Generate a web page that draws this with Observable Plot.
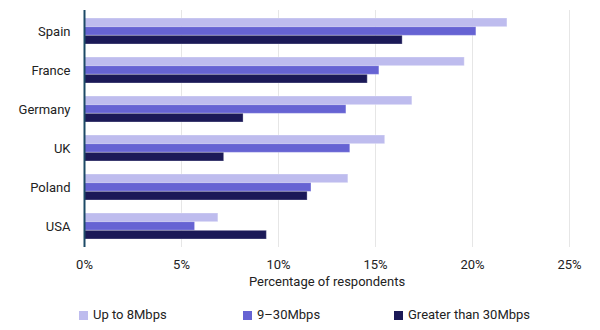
<!DOCTYPE html>
<html>
<head>
<meta charset="utf-8">
<script src="https://cdn.jsdelivr.net/npm/d3@7"></script>
<script src="https://cdn.jsdelivr.net/npm/@observablehq/plot@0.6"></script>
<style>
  html, body { margin: 0; padding: 0; background: #fff; }
  body { width: 600px; height: 330px; overflow: hidden; font-family: Roboto, "DejaVu Sans", sans-serif; }
  #legend { display: flex; align-items: center; padding-left: 79px; margin-top: 8px; font-size: 13px; color: #222; line-height: 14px; }
  #legend .item { display: flex; align-items: center; }
  #legend .sw { width: 9px; height: 9px; margin-right: 5px; display: inline-block; }
</style>
</head>
<body>
<div id="chart"></div>
<div id="legend"></div>
<script>
const countries = ["Spain", "France", "Germany", "UK", "Poland", "USA"];
const seriesNames = ["Up to 8Mbps", "9\u201330Mbps", "Greater than 30Mbps"];
const upTo8 =    [21.8, 19.6, 16.9, 15.5, 13.6, 6.9];
const mid9to30 = [20.2, 15.2, 13.5, 13.7, 11.7, 5.7];
const over30 =   [16.4, 14.6, 8.2, 7.2, 11.5, 9.4];
const xTicks = [0, 5, 10, 15, 20, 25];
const colors = ["#bebcee", "#6663d3", "#1b1957"];

const seriesValues = [upTo8, mid9to30, over30];

const W = 600, H = 300, mT = 10, mB = 53, mL = 84, mR = 31;
const padIn = 0.34, padOut = 0.18;
const step = (H - mT - mB) / (countries.length - padIn + 2 * padOut);
const band = step * (1 - padIn);
const sub = band / seriesNames.length;

const font = "Roboto, 'DejaVu Sans', sans-serif";

const barMarks = seriesNames.map((s, j) => {
  const rows = countries.map((c, i) => ({country: c, series: s, value: seriesValues[j][i]}));
  return Plot.barX(rows, {
    x: "value", y: "country", fill: "series",
    insetTop: j * sub, insetBottom: (seriesNames.length - 1 - j) * sub,
    stroke: "white", strokeOpacity: 0.3, strokeWidth: 1
  });
});

const chart = Plot.plot({
  width: W,
  height: H,
  marginTop: mT,
  marginBottom: mB,
  marginLeft: mL,
  marginRight: mR,
  style: {fontFamily: font, fontSize: "13px", color: "#222", background: "#fff"},
  x: {domain: [0, 25]},
  y: {domain: countries, paddingInner: padIn, paddingOuter: padOut},
  color: {domain: seriesNames, range: colors},
  marks: [
    Plot.gridX(xTicks, {stroke: "#e6e6e6", strokeOpacity: 1, strokeWidth: 1}),
    ...barMarks,
    Plot.ruleX([0], {stroke: "#1d4a66", strokeWidth: 2}),
    Plot.axisX(xTicks, {tickSize: 0, tickPadding: 12, tickFormat: d => d + "%", label: null, fill: "#222"}),
    Plot.axisY({tickSize: 0, tickPadding: 14, label: null, fill: "#222"}),
    Plot.text(["Percentage of respondents"], {frameAnchor: "bottom", dy: 38, fill: "#222"})
  ]
});
document.getElementById("chart").appendChild(chart);

const legend = document.getElementById("legend");
const widths = [164, 151, 140];
seriesNames.forEach((s, i) => {
  const item = document.createElement("div");
  item.className = "item";
  item.style.width = widths[i] + "px";
  const sw = document.createElement("span");
  sw.className = "sw";
  sw.style.background = colors[i];
  const t = document.createElement("span");
  t.textContent = s;
  item.appendChild(sw);
  item.appendChild(t);
  legend.appendChild(item);
});
</script>
</body>
</html>
